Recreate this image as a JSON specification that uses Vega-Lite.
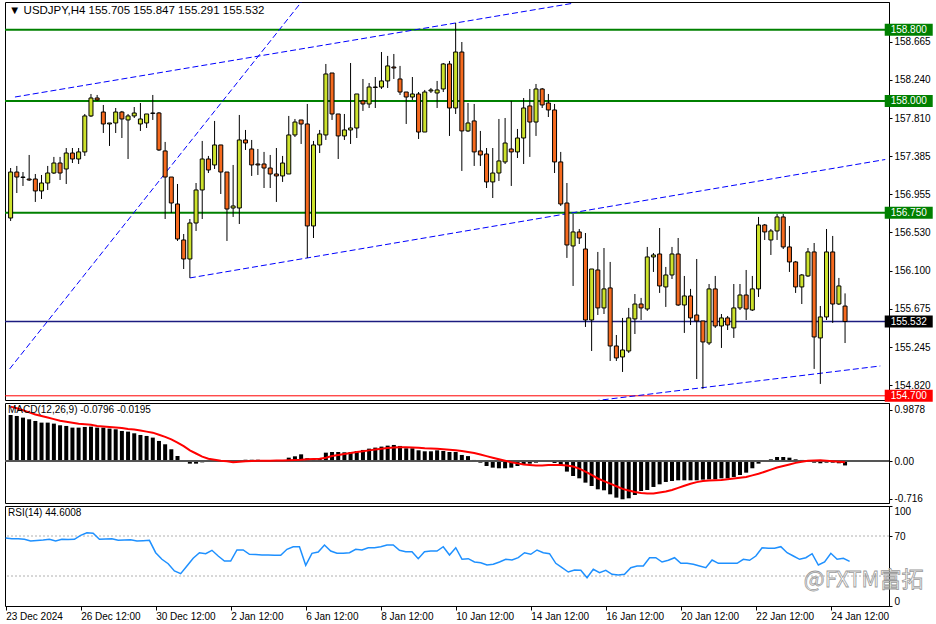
{
"$schema": "https://vega.github.io/schema/vega-lite/v6.json",
"padding": {"left": 2, "top": 1, "right": 0, "bottom": 0},
"background": "white",
"spacing": 3,
"bounds": "flush",
"config": {
 "view": {"stroke": "#000000", "strokeWidth": 1},
 "font": "Liberation Sans",
 "title": {"font": "Liberation Sans", "fontSize": 10, "fontWeight": "normal", "color": "#000000", "anchor": "start", "frame": "group"},
 "axis": {"labelFont": "Liberation Sans", "labelFontSize": 10, "labelColor": "#000000", "domainColor": "#000000", "tickColor": "#000000", "grid": false, "title": null, "tickSize": 3, "labelPadding": 2}
},
"datasets": {
 "bars": [
{"i":0,"o":156.691,"h":157.251,"l":156.658,"c":157.206,"m":0.890,"s":1.05,"r":68},
{"i":1,"o":157.206,"h":157.274,"l":156.971,"c":157.150,"m":0.871,"s":1.02,"r":67.3},
{"i":2,"o":157.150,"h":157.206,"l":157.050,"c":157.145,"m":0.839,"s":0.98,"r":67.3},
{"i":3,"o":157.128,"h":157.397,"l":157.106,"c":157.117,"m":0.807,"s":0.94,"r":66.7},
{"i":4,"o":157.128,"h":157.184,"l":156.871,"c":156.994,"m":0.775,"s":0.90,"r":65},
{"i":5,"o":156.994,"h":157.173,"l":156.904,"c":157.083,"m":0.743,"s":0.87,"r":65.5},
{"i":6,"o":157.083,"h":157.274,"l":157.005,"c":157.195,"m":0.743,"s":0.84,"r":66},
{"i":7,"o":157.195,"h":157.375,"l":157.184,"c":157.307,"m":0.724,"s":0.81,"r":66.7},
{"i":8,"o":157.307,"h":157.375,"l":157.117,"c":157.195,"m":0.692,"s":0.78,"r":65},
{"i":9,"o":157.240,"h":157.475,"l":157.072,"c":157.419,"m":0.679,"s":0.76,"r":66.7},
{"i":10,"o":157.419,"h":157.475,"l":157.307,"c":157.352,"m":0.647,"s":0.74,"r":66.5},
{"i":11,"o":157.352,"h":157.475,"l":157.296,"c":157.431,"m":0.647,"s":0.72,"r":66.7},
{"i":12,"o":157.431,"h":157.856,"l":157.386,"c":157.834,"m":0.660,"s":0.71,"r":70.7},
{"i":13,"o":157.834,"h":158.080,"l":157.822,"c":158.035,"m":0.666,"s":0.70,"r":73.3},
{"i":14,"o":158.035,"h":158.069,"l":158.002,"c":158.013,"m":0.647,"s":0.68,"r":72.7},
{"i":15,"o":157.878,"h":157.957,"l":157.643,"c":157.744,"m":0.647,"s":0.67,"r":66.7},
{"i":16,"o":157.744,"h":157.755,"l":157.498,"c":157.755,"m":0.628,"s":0.66,"r":67},
{"i":17,"o":157.755,"h":157.923,"l":157.643,"c":157.878,"m":0.615,"s":0.65,"r":67.3},
{"i":18,"o":157.878,"h":157.890,"l":157.587,"c":157.800,"m":0.583,"s":0.64,"r":65.7},
{"i":19,"o":157.789,"h":157.856,"l":157.352,"c":157.834,"m":0.570,"s":0.62,"r":66},
{"i":20,"o":157.834,"h":157.934,"l":157.811,"c":157.867,"m":0.538,"s":0.61,"r":66.3},
{"i":21,"o":157.744,"h":157.979,"l":157.666,"c":157.800,"m":0.506,"s":0.59,"r":65},
{"i":22,"o":157.755,"h":157.856,"l":157.699,"c":157.856,"m":0.487,"s":0.57,"r":65.3},
{"i":23,"o":157.867,"h":158.069,"l":157.789,"c":157.862,"m":0.455,"s":0.55,"r":65.7},
{"i":24,"o":157.867,"h":157.878,"l":157.442,"c":157.453,"m":0.391,"s":0.51,"r":53.3},
{"i":25,"o":157.442,"h":157.543,"l":156.680,"c":157.150,"m":0.327,"s":0.47,"r":46.7},
{"i":26,"o":157.150,"h":157.150,"l":156.747,"c":156.859,"m":0.231,"s":0.42,"r":42.3},
{"i":27,"o":156.848,"h":157.072,"l":156.434,"c":156.456,"m":0.102,"s":0.36,"r":35},
{"i":28,"o":156.445,"h":156.512,"l":156.120,"c":156.232,"m":0.010,"s":0.29,"r":32.3},
{"i":29,"o":156.232,"h":156.680,"l":156.020,"c":156.635,"m":-0.045,"s":0.21,"r":40},
{"i":30,"o":156.635,"h":157.083,"l":156.546,"c":157.005,"m":-0.045,"s":0.15,"r":47.7},
{"i":31,"o":157.005,"h":157.554,"l":156.680,"c":157.352,"m":-0.020,"s":0.09,"r":53.3},
{"i":32,"o":157.352,"h":157.386,"l":157.195,"c":157.229,"m":0.005,"s":0.05,"r":52.3},
{"i":33,"o":157.285,"h":157.778,"l":157.240,"c":157.509,"m":0.015,"s":0.03,"r":55.7},
{"i":34,"o":157.509,"h":157.509,"l":156.960,"c":157.206,"m":0.010,"s":0.01,"r":50},
{"i":35,"o":157.206,"h":157.206,"l":156.434,"c":156.792,"m":-0.006,"s":0.00,"r":45},
{"i":36,"o":156.803,"h":157.285,"l":156.703,"c":156.826,"m":-0.010,"s":-0.02,"r":45},
{"i":37,"o":156.803,"h":157.845,"l":156.624,"c":157.565,"m":0.006,"s":-0.01,"r":56},
{"i":38,"o":157.565,"h":157.677,"l":157.453,"c":157.531,"m":0.030,"s":0.00,"r":56},
{"i":39,"o":157.464,"h":157.565,"l":157.162,"c":157.285,"m":0.030,"s":0.005,"r":51.7},
{"i":40,"o":157.296,"h":157.464,"l":157.173,"c":157.285,"m":0.030,"s":0.01,"r":51.5},
{"i":41,"o":157.296,"h":157.431,"l":157.027,"c":157.251,"m":0.025,"s":0.01,"r":51},
{"i":42,"o":157.251,"h":157.397,"l":157.027,"c":157.184,"m":0.020,"s":0.01,"r":51},
{"i":43,"o":157.184,"h":157.475,"l":156.871,"c":157.162,"m":0.015,"s":0.015,"r":50.7},
{"i":44,"o":157.162,"h":157.386,"l":157.095,"c":157.307,"m":0.015,"s":0.015,"r":50.7},
{"i":45,"o":157.184,"h":157.834,"l":157.184,"c":157.621,"m":0.070,"s":0.02,"r":56.7},
{"i":46,"o":157.621,"h":157.800,"l":157.598,"c":157.766,"m":0.096,"s":0.025,"r":59.3},
{"i":47,"o":157.789,"h":157.789,"l":157.520,"c":157.744,"m":0.134,"s":0.03,"r":59.3},
{"i":48,"o":157.744,"h":157.968,"l":156.244,"c":156.602,"m":0.060,"s":0.04,"r":40.7},
{"i":49,"o":156.602,"h":157.554,"l":156.467,"c":157.509,"m":0.045,"s":0.045,"r":52.7},
{"i":50,"o":157.509,"h":157.677,"l":157.419,"c":157.632,"m":0.050,"s":0.05,"r":54},
{"i":51,"o":157.621,"h":158.416,"l":157.565,"c":158.304,"m":0.166,"s":0.07,"r":61},
{"i":52,"o":158.315,"h":158.315,"l":157.789,"c":157.856,"m":0.179,"s":0.10,"r":55},
{"i":53,"o":157.856,"h":157.856,"l":157.352,"c":157.610,"m":0.179,"s":0.12,"r":52.7},
{"i":54,"o":157.610,"h":157.856,"l":157.565,"c":157.677,"m":0.173,"s":0.14,"r":52.7},
{"i":55,"o":157.677,"h":158.427,"l":157.520,"c":157.699,"m":0.179,"s":0.16,"r":53.3},
{"i":56,"o":157.699,"h":158.080,"l":157.587,"c":158.080,"m":0.198,"s":0.18,"r":56.7},
{"i":57,"o":158.002,"h":158.248,"l":157.890,"c":157.968,"m":0.218,"s":0.195,"r":56},
{"i":58,"o":157.968,"h":158.203,"l":157.923,"c":158.158,"m":0.243,"s":0.21,"r":58.3},
{"i":59,"o":158.158,"h":158.270,"l":157.923,"c":158.153,"m":0.263,"s":0.225,"r":58.3},
{"i":60,"o":158.158,"h":158.550,"l":158.136,"c":158.226,"m":0.282,"s":0.24,"r":59.3},
{"i":61,"o":158.226,"h":158.506,"l":158.147,"c":158.394,"m":0.301,"s":0.255,"r":61},
{"i":62,"o":158.382,"h":158.528,"l":158.248,"c":158.371,"m":0.314,"s":0.265,"r":61},
{"i":63,"o":158.248,"h":158.394,"l":158.069,"c":158.102,"m":0.295,"s":0.27,"r":55.7},
{"i":64,"o":158.102,"h":158.102,"l":157.744,"c":158.046,"m":0.250,"s":0.27,"r":54.3},
{"i":65,"o":158.046,"h":158.270,"l":158.013,"c":158.080,"m":0.250,"s":0.265,"r":54.3},
{"i":66,"o":158.080,"h":158.102,"l":157.576,"c":157.654,"m":0.211,"s":0.26,"r":47.3},
{"i":67,"o":157.654,"h":158.125,"l":157.654,"c":158.102,"m":0.192,"s":0.25,"r":54.3},
{"i":68,"o":158.114,"h":158.147,"l":158.091,"c":158.125,"m":0.192,"s":0.245,"r":55},
{"i":69,"o":158.091,"h":158.226,"l":157.923,"c":158.125,"m":0.211,"s":0.24,"r":55},
{"i":70,"o":158.136,"h":158.427,"l":158.102,"c":158.416,"m":0.198,"s":0.23,"r":59.3},
{"i":71,"o":158.416,"h":158.450,"l":157.610,"c":157.923,"m":0.179,"s":0.22,"r":51},
{"i":72,"o":157.923,"h":158.875,"l":157.856,"c":158.550,"m":0.179,"s":0.21,"r":58.3},
{"i":73,"o":158.550,"h":158.662,"l":157.218,"c":157.666,"m":0.122,"s":0.20,"r":46.7},
{"i":74,"o":157.666,"h":157.979,"l":157.654,"c":157.755,"m":0.100,"s":0.18,"r":47.3},
{"i":75,"o":157.778,"h":157.968,"l":157.274,"c":157.431,"m":0.026,"s":0.16,"r":44},
{"i":76,"o":157.442,"h":157.666,"l":157.274,"c":157.397,"m":-0.026,"s":0.13,"r":43.3},
{"i":77,"o":157.408,"h":157.475,"l":157.027,"c":157.095,"m":-0.090,"s":0.10,"r":41},
{"i":78,"o":157.095,"h":157.475,"l":156.915,"c":157.195,"m":-0.122,"s":0.07,"r":41.7},
{"i":79,"o":157.195,"h":157.800,"l":157.106,"c":157.330,"m":-0.134,"s":0.04,"r":44},
{"i":80,"o":157.319,"h":157.811,"l":157.296,"c":157.531,"m":-0.134,"s":0.01,"r":46.7},
{"i":81,"o":157.464,"h":158.002,"l":157.050,"c":157.431,"m":-0.122,"s":-0.02,"r":46},
{"i":82,"o":157.431,"h":157.688,"l":157.363,"c":157.587,"m":-0.090,"s":-0.04,"r":48.3},
{"i":83,"o":157.587,"h":158.035,"l":157.296,"c":157.923,"m":-0.058,"s":-0.06,"r":53.3},
{"i":84,"o":157.946,"h":158.136,"l":157.375,"c":157.766,"m":-0.045,"s":-0.07,"r":51.7},
{"i":85,"o":157.766,"h":158.192,"l":157.610,"c":158.136,"m":-0.026,"s":-0.08,"r":56},
{"i":86,"o":158.136,"h":158.147,"l":157.923,"c":157.957,"m":-0.013,"s":-0.08,"r":53.3},
{"i":87,"o":157.979,"h":158.080,"l":157.822,"c":157.901,"m":-0.013,"s":-0.07,"r":52.3},
{"i":88,"o":157.901,"h":157.968,"l":157.195,"c":157.319,"m":-0.032,"s":-0.07,"r":42.7},
{"i":89,"o":157.319,"h":157.431,"l":156.826,"c":156.848,"m":-0.090,"s":-0.07,"r":38.3},
{"i":90,"o":156.859,"h":157.083,"l":156.244,"c":156.389,"m":-0.198,"s":-0.08,"r":34},
{"i":91,"o":156.378,"h":156.736,"l":155.930,"c":156.535,"m":-0.282,"s":-0.10,"r":36},
{"i":92,"o":156.535,"h":156.568,"l":156.400,"c":156.467,"m":-0.327,"s":-0.14,"r":35.7},
{"i":93,"o":156.344,"h":156.523,"l":155.471,"c":155.549,"m":-0.410,"s":-0.20,"r":28.3},
{"i":94,"o":155.549,"h":156.120,"l":155.202,"c":156.120,"m":-0.474,"s":-0.26,"r":36.7},
{"i":95,"o":156.109,"h":156.311,"l":155.605,"c":155.684,"m":-0.538,"s":-0.33,"r":33.3},
{"i":96,"o":155.684,"h":156.355,"l":155.616,"c":155.897,"m":-0.557,"s":-0.38,"r":35.7},
{"i":97,"o":155.908,"h":156.199,"l":155.090,"c":155.258,"m":-0.634,"s":-0.43,"r":31.7},
{"i":98,"o":155.258,"h":155.381,"l":155.090,"c":155.124,"m":-0.698,"s":-0.48,"r":31},
{"i":99,"o":155.135,"h":155.572,"l":154.967,"c":155.213,"m":-0.730,"s":-0.53,"r":31.7},
{"i":100,"o":155.202,"h":155.684,"l":155.180,"c":155.572,"m":-0.711,"s":-0.56,"r":38.3},
{"i":101,"o":155.561,"h":155.840,"l":155.392,"c":155.728,"m":-0.647,"s":-0.59,"r":40},
{"i":102,"o":155.728,"h":155.796,"l":155.549,"c":155.684,"m":-0.570,"s":-0.61,"r":40},
{"i":103,"o":155.672,"h":156.367,"l":155.650,"c":156.255,"m":-0.551,"s":-0.62,"r":48.3},
{"i":104,"o":156.255,"h":156.299,"l":156.087,"c":156.277,"m":-0.493,"s":-0.62,"r":48.3},
{"i":105,"o":156.288,"h":156.579,"l":155.852,"c":155.930,"m":-0.442,"s":-0.60,"r":44},
{"i":106,"o":155.919,"h":156.143,"l":155.695,"c":156.053,"m":-0.397,"s":-0.58,"r":45.7},
{"i":107,"o":156.053,"h":156.367,"l":156.008,"c":156.288,"m":-0.378,"s":-0.55,"r":48.3},
{"i":108,"o":156.288,"h":156.467,"l":155.706,"c":155.717,"m":-0.365,"s":-0.51,"r":42.7},
{"i":109,"o":155.717,"h":156.042,"l":155.404,"c":155.818,"m":-0.365,"s":-0.47,"r":42.7},
{"i":110,"o":155.818,"h":155.897,"l":155.493,"c":155.572,"m":-0.365,"s":-0.43,"r":41.7},
{"i":111,"o":155.605,"h":156.232,"l":154.888,"c":155.538,"m":-0.365,"s":-0.40,"r":40},
{"i":112,"o":155.538,"h":155.538,"l":154.777,"c":155.303,"m":-0.352,"s":-0.38,"r":38.3},
{"i":113,"o":155.292,"h":155.952,"l":155.269,"c":155.897,"m":-0.346,"s":-0.37,"r":46},
{"i":114,"o":155.897,"h":156.042,"l":155.460,"c":155.482,"m":-0.346,"s":-0.365,"r":42.7},
{"i":115,"o":155.482,"h":155.616,"l":155.236,"c":155.572,"m":-0.327,"s":-0.36,"r":42.7},
{"i":116,"o":155.572,"h":155.594,"l":155.437,"c":155.493,"m":-0.327,"s":-0.345,"r":42.7},
{"i":117,"o":155.460,"h":155.952,"l":155.348,"c":155.684,"m":-0.301,"s":-0.33,"r":42.7},
{"i":118,"o":155.684,"h":155.952,"l":155.661,"c":155.829,"m":-0.263,"s":-0.315,"r":46.7},
{"i":119,"o":155.829,"h":156.109,"l":155.549,"c":155.672,"m":-0.218,"s":-0.30,"r":45.7},
{"i":120,"o":155.661,"h":156.042,"l":155.650,"c":155.897,"m":-0.134,"s":-0.27,"r":50},
{"i":121,"o":155.897,"h":156.703,"l":155.807,"c":156.613,"m":-0.045,"s":-0.24,"r":58.3},
{"i":122,"o":156.613,"h":156.624,"l":156.445,"c":156.535,"m":-0.013,"s":-0.20,"r":57.7},
{"i":123,"o":156.445,"h":156.568,"l":156.277,"c":156.546,"m":0.038,"s":-0.16,"r":57.7},
{"i":124,"o":156.546,"h":156.736,"l":156.445,"c":156.703,"m":0.083,"s":-0.12,"r":59.3},
{"i":125,"o":156.703,"h":156.736,"l":156.344,"c":156.367,"m":0.083,"s":-0.09,"r":53.3},
{"i":126,"o":156.367,"h":156.602,"l":156.087,"c":156.199,"m":0.070,"s":-0.06,"r":50},
{"i":127,"o":156.199,"h":156.210,"l":155.852,"c":155.919,"m":0.038,"s":-0.03,"r":46.7},
{"i":128,"o":155.919,"h":156.064,"l":155.728,"c":156.053,"m":0.026,"s":-0.01,"r":48.3},
{"i":129,"o":156.042,"h":156.355,"l":156.031,"c":156.311,"m":0.000,"s":0.01,"r":52.3},
{"i":130,"o":156.311,"h":156.411,"l":155.001,"c":155.359,"m":-0.026,"s":0.015,"r":41},
{"i":131,"o":155.348,"h":155.706,"l":154.833,"c":155.583,"m":-0.038,"s":0.02,"r":44},
{"i":132,"o":155.583,"h":156.568,"l":155.549,"c":156.311,"m":-0.026,"s":0.01,"r":52.7},
{"i":133,"o":156.311,"h":156.490,"l":155.516,"c":155.728,"m":-0.026,"s":0.00,"r":46.7},
{"i":134,"o":155.728,"h":156.020,"l":155.717,"c":155.930,"m":-0.038,"s":-0.01,"r":47.7},
{"i":135,"o":155.705,"h":155.847,"l":155.291,"c":155.532,"m":-0.0796,"s":-0.0195,"r":44.6}
 ],
 "levels": [
  {"p":158.8,"kind":"green","label":"158.800"},
  {"p":158.0,"kind":"green","label":"158.000"},
  {"p":156.75,"kind":"green","label":"156.750"},
  {"p":155.532,"kind":"now","label":"155.532"},
  {"p":154.7,"kind":"red","label":"154.700"}
 ],
 "trends": [
  {"line":"upper","i":0.7,"p":158.046},
  {"line":"upper","i":91,"p":159.096},
  {"line":"steep","i":-0.16,"p":155.001},
  {"line":"steep","i":47.5,"p":159.15},
  {"line":"lower","i":29,"p":156.020},
  {"line":"lower","i":141.5,"p":157.346},
  {"line":"bottom","i":90,"p":154.606},
  {"line":"bottom","i":140.7,"p":155.034}
 ],
 "rsilevels": [{"v":70},{"v":30}],
 "marks": [{"name":"FXTM"}]
},
"vconcat": [
 {
  "width": 884, "height": 398,
  "title": {"text": "▼ USDJPY,H4  155.705 155.847 155.291 155.532", "offset": -14, "dx": 4, "fontSize": 11.5},
  "layer": [
   {
    "data": {"name": "levels"},
    "mark": {"type": "rule"},
    "encoding": {
     "y": {"field": "p", "type": "quantitative", "scale": {"domain": [154.653, 159.11], "nice": false, "zero": false},
      "axis": {"orient": "right", "values": [154.82,155.245,155.675,156.1,156.53,156.955,157.385,157.81,158.24,158.665], "format": ".3f"}},
     "color": {"field": "kind", "type": "nominal", "scale": {"domain": ["green","now","red"], "range": ["#008000","#1c1c80","#ff0000"]}, "legend": null},
     "strokeWidth": {"field": "kind", "type": "ordinal", "scale": {"domain": ["green","now","red"], "range": [2,1,1.5]}, "legend": null}
    }
   },
   {
    "data": {"name": "trends"},
    "mark": {"type": "line", "color": "#0000ff", "strokeWidth": 1, "strokeDash": [6,3], "clip": true},
    "encoding": {
     "x": {"field": "i", "type": "quantitative", "scale": {"domain": [-0.1, 141.3], "nice": false, "zero": false}, "axis": null},
     "y": {"field": "p", "type": "quantitative"},
     "detail": {"field": "line"}
    }
   },
   {
    "data": {"name": "bars"},
    "mark": {"type": "rule", "color": "#000000", "strokeWidth": 1},
    "encoding": {
     "x": {"field": "i", "type": "quantitative"},
     "y": {"field": "l", "type": "quantitative"},
     "y2": {"field": "h"}
    }
   },
   {
    "data": {"name": "bars"},
    "mark": {"type": "bar", "width": 4, "stroke": "#000000", "strokeWidth": 1},
    "encoding": {
     "x": {"field": "i", "type": "quantitative"},
     "y": {"field": "o", "type": "quantitative"},
     "y2": {"field": "c"},
     "fill": {"condition": {"test": "datum.c >= datum.o", "value": "#cde22c"}, "value": "#f66a1e"}
    }
   },
   {
    "data": {"name": "levels"},
    "mark": {"type": "tick", "orient": "horizontal", "size": 48, "thickness": 12, "clip": false, "opacity": 1},
    "encoding": {
     "x": {"datum": 145.3, "type": "quantitative"},
     "y": {"field": "p", "type": "quantitative"},
     "color": {"field": "kind", "type": "nominal", "scale": {"domain": ["green","now","red"], "range": ["#008000","#000000","#ff0000"]}, "legend": null}
    }
   },
   {
    "data": {"name": "levels"},
    "mark": {"type": "text", "color": "#ffffff", "fontSize": 10, "font": "Liberation Sans", "align": "center", "baseline": "middle", "clip": false},
    "encoding": {
     "x": {"datum": 145.3, "type": "quantitative"},
     "y": {"field": "p", "type": "quantitative"},
     "text": {"field": "label"}
    }
   }
  ],
  "resolve": {"scale": {"color": "independent"}}
 },
 {
  "width": 884, "height": 100,
  "title": {"text": "MACD(12,26,9) -0.0796 -0.0195", "offset": -12, "dx": 3},
  "data": {"name": "bars"},
  "layer": [
   {
    "mark": {"type": "bar", "width": 4, "color": "#000000"},
    "encoding": {
     "x": {"field": "i", "type": "quantitative", "scale": {"domain": [-0.1, 141.3], "nice": false, "zero": false}, "axis": null},
     "y": {"field": "m", "type": "quantitative", "scale": {"domain": [-0.801, 1.12], "nice": false, "zero": false},
      "axis": {"orient": "right", "values": [0.9878, 0, -0.716], "labelExpr": "datum.value == 0 ? '0.00' : '' + datum.value"}},
     "y2": {"datum": 0}
    }
   },
   {
    "mark": {"type": "rule", "color": "#555555", "strokeWidth": 1},
    "encoding": {"y": {"datum": 0, "type": "quantitative"}}
   },
   {
    "mark": {"type": "line", "color": "#ff0000", "strokeWidth": 2},
    "encoding": {
     "x": {"field": "i", "type": "quantitative"},
     "y": {"field": "s", "type": "quantitative"}
    }
   }
  ]
 },
 {
  "width": 884, "height": 100,
  "title": {"text": "RSI(14) 44.6008", "offset": -12, "dx": 3},
  "layer": [
   {
    "data": {"name": "rsilevels"},
    "mark": {"type": "rule", "color": "#b0b0b0", "strokeWidth": 1, "strokeDash": [2,2]},
    "encoding": {
     "y": {"field": "v", "type": "quantitative", "scale": {"domain": [0, 100], "nice": false},
      "axis": {"orient": "right", "values": [0, 70, 100], "labelFlush": true}}
    }
   },
   {
    "data": {"name": "bars"},
    "mark": {"type": "line", "color": "#1e90ff", "strokeWidth": 1.5},
    "encoding": {
     "x": {"field": "i", "type": "quantitative", "scale": {"domain": [-0.1, 141.3], "nice": false, "zero": false},
      "axis": {"orient": "bottom", "values": [0,12,24,36,48,60,72,84,96,108,120,132], "labelAlign": "left", "tickSize": 4, "labelPadding": 1, "domain": false,
       "labelExpr": "['23 Dec 2024','26 Dec 12:00','30 Dec 12:00','2 Jan 12:00','6 Jan 12:00','8 Jan 12:00','10 Jan 12:00','14 Jan 12:00','16 Jan 12:00','20 Jan 12:00','22 Jan 12:00','24 Jan 12:00'][round(datum.value/12)]"}},
     "y": {"field": "r", "type": "quantitative"}
    }
   },
   {
    "data": {"name": "marks"},
    "mark": {"type": "text", "text": "@FXTM富拓", "font": "Noto Sans CJK SC", "fontSize": 22, "align": "right", "baseline": "middle", "fill": "#ffffff", "fillOpacity": 0.3, "stroke": "#9a9a9a", "strokeWidth": 0.8, "clip": false},
    "encoding": {
     "x": {"datum": 146.8, "type": "quantitative"},
     "y": {"datum": 26, "type": "quantitative"}
    }
   }
  ]
 }
]
}
